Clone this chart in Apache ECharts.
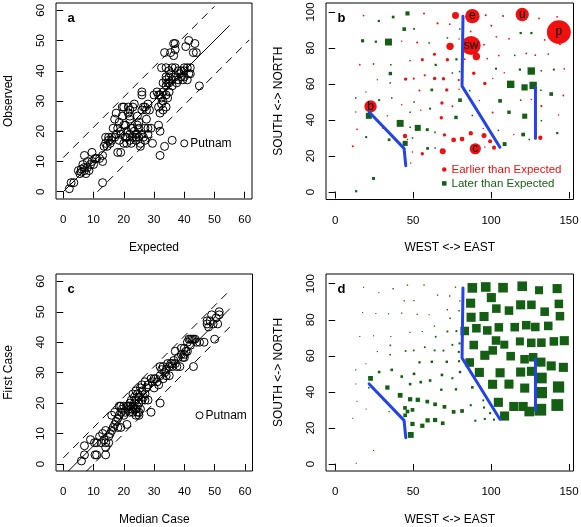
<!DOCTYPE html>
<html><head><meta charset="utf-8">
<script src="https://cdn.jsdelivr.net/npm/echarts@6/dist/echarts.min.js"></script>
<style>html,body{margin:0;padding:0;background:#fff}#c{width:581px;height:527px}</style>
</head><body><div id="c"></div>
<script>
// ---------- Panel a : Observed vs Expected ----------
const scatterA = [[2,1],[2.6,3],[3.5,3],[5,7],[5.5,6],[6,6.5],[6,7.5],[6.5,9],[7,7],[7,8],[7.5,6],[7,12],[8,8],[8,10],[8.5,7],[9,9],[9.5,10],[10,9],[9.5,13],[10.5,11],[11,11],[12,11],[13,10],[13,12],[13,3],[13.5,15],[14,16],[14,18],[14.5,15],[15,17],[15,18],[15.5,16],[16,18],[16,17],[16.5,21],[17,24],[17,18],[17.5,26],[17.5,19],[18,21],[18,13],[18.5,17],[18.5,23],[19,19],[19,20],[19,13],[19.5,28],[19.5,25],[20,28],[20,22],[20,16],[20.5,22],[20.5,18],[21,20],[21,18],[21,16],[21.5,28],[21.5,26],[22,27],[22,25],[22,24],[22,19],[22,17],[22.5,16],[22.5,21],[23,28],[23,21],[23,18],[23.5,29],[23.5,20],[24,19],[24,18],[24,17],[24.5,25],[24.5,22],[24.5,19],[25,23],[25,21],[25,18],[25.5,16],[25.5,15],[26,33],[26,32],[26,27],[26,19],[26.5,28],[26.5,18],[27,28],[27,21],[27,17],[27.5,27],[27.5,24],[28,19],[28,21],[28,29],[28.5,27],[29,21],[29.5,16],[30,32],[31,33],[31.5,32],[32,32],[31.5,28],[31.5,22],[32,26],[32,20],[32,12],[32.5,41],[32.5,31],[32.5,29],[33,36],[33,33],[33,30],[33,27],[33.5,15],[33.5,46],[34,41],[34,38],[34,37],[34,35],[34,32],[34,28],[34.5,31],[34.5,36],[35,40],[35,38],[35,36],[35,33],[35.5,46],[35.5,39],[36,41],[36,37],[36,35],[36,17],[36.5,49],[36.5,45],[37,49],[37,47],[37,41],[37,38],[37.5,36],[38,40],[38,37],[38.5,39],[39,40],[39,38],[39.5,37],[40,41],[40,40],[40,38],[40.5,48],[41,41],[41,37],[41.5,50],[41.5,39],[42,41],[42,39],[43,46],[43.5,49],[44,46],[45,35]];
const putnamA = [[40,16]];
const fitA = [[0,0],[55,55]];
const upperA = [[0,11.3],[50,61.3]];
const lowerA = [[11.3,0],[61.5,50.2]];

// ---------- Panel c : First Case vs Median Case ----------
const scatterC = [[6,1],[7,3],[7,6],[9,8],[10.3,7],[11,7],[10.5,3],[11,3],[12,9],[12.5,7],[13,10],[13.5,8],[14,11],[14,7],[14,5.5],[14,3],[15,7],[15,9],[15.5,10],[16,16],[16,11],[16.5,12],[17,17],[17,13],[17.5,14],[18,15],[18,12],[18.5,19],[18.5,16],[19,12],[19,17],[19,19],[19.5,18],[20,19],[20,16],[20.5,17],[21,19],[21,13],[21.5,18],[21.5,19],[22,19],[22,20],[22,17],[22.5,21],[22.5,18],[23,23],[23,19],[23,17],[23.5,22],[23.5,20],[23.5,18],[24,18],[24,24],[24,21],[24,16],[24.5,19],[24.5,23],[24.5,17],[25,20],[25,17],[25,22],[25,16],[25.5,25],[25.5,18],[26,21],[26,24],[26,26],[26.5,22],[27,27],[27,23],[27,21],[27.5,25],[28,26],[28,21],[29,17],[29,28],[29.5,27],[30,28],[30,25],[30.5,28],[31,27],[31.5,26],[32,32],[32,29],[32,20],[32.5,31],[33,32],[33,28],[33.5,30],[34,29],[34,31],[34.5,33],[35,32],[35,29],[35.5,33],[36,33],[36,32],[36.5,34],[37,33],[37,37],[37.5,32],[38,35],[38.5,32],[39,38],[39,36],[39.5,35],[40,38],[40,36],[40,35],[40.5,37],[41,37],[41,40],[41.5,41],[42,41],[42,39],[42.5,41],[43,41],[43,32],[43.5,41],[44,40],[45,40],[46.5,40],[47.5,47],[47.5,46],[48,45],[48.5,47],[49,49],[49.5,46],[50,41],[50.5,48],[51,46],[51.5,49],[51.5,50]];
const putnamC = [[45,16]];
const fitC = [[1.6,-2.4],[55,51]];
const upperC = [[0,2],[55,57]];
const lowerC = [[7.6,-2.4],[55,45]];
const outlierName = 'Putnam';

// ---------- Panels b, d : town locations ----------
const towns = [
[46.4,99.2],[57,99.2],[37.2,97.2],[28,95],[18.2,98],[88,97.7],[96.6,98.2],[107.7,97.8],[120,98.6],[130.8,96.4],
[142.4,97.3],[77.2,98.1],[65.7,93.7],[73.5,93.2],[50.6,90.6],[44.3,90.5],[100.2,92.3],[86.9,89.2],[103.4,86.2],[111.5,85.1],
[119,88.3],[125.9,88.3],[134.4,84.5],[143.5,88.8],[144.2,82],[87.2,81.4],[95.5,81.8],[72,85.6],[73.7,80.9],[17.6,84],
[26.1,83.5],[34.2,83.3],[52.6,83],[60.3,82.8],[63.7,76.5],[55.9,73.5],[48,73],[72,73.5],[77.8,73.7],[83.1,73.8],
[90.6,75.3],[97.6,74.1],[105,75.8],[115.2,75.9],[122.6,77],[128.4,76],[136.7,76.6],[15.8,70.7],[24.6,71.1],[35.7,70.7],
[64.5,70.6],[35.4,65.8],[45.2,62.7],[50.4,63],[57.5,64.8],[63.8,63],[69.5,62.9],[75.2,66.1],[79.3,62.2],[88.9,66],
[103.2,68.5],[108.5,66.2],[118.5,68],[125.8,67.2],[132.3,67.3],[140.3,68],[147,68.4],[101.1,63],[96,60.3],[112.6,59.8],
[121.5,58.1],[127,59.2],[132,56.5],[138.6,54.4],[146.4,53.6],[119,51],[125.9,51.4],[132.3,47.7],[143.3,42.7],[132.3,39.6],
[121.6,42.1],[111.5,44.3],[101,44.2],[105.8,50.6],[92.5,50.8],[86.3,56.3],[104.7,34.2],[108.7,26.6],[114.6,31.9],[120.6,31.9],
[124.5,29.1],[131.6,30.1],[142.5,32.7],[95.5,31.3],[87,32.6],[95,35.3],[81.4,29.4],[76,28.9],[69,22.6],[70.1,31.7],
[64.1,33.1],[59.1,34.6],[53,35.6],[48.1,35.9],[41.7,38.1],[33.5,42.4],[21.6,42.3],[22.7,47.5],[28.2,51],[36.3,52.2],
[42.7,48.5],[50.6,50],[54.9,45.4],[60.9,46.3],[68.5,49.4],[68.1,41.2],[77.5,41.4],[80.1,51],[75.2,47.6],[71.6,56.7],
[62,56.7],[54.1,56.4],[88,42.5],[44.8,31.1],[44.9,27],[46.4,29.1],[49.6,30],[49.6,22.2],[55.9,21.2],[59.3,24.2],
[64.1,24.4],[48.5,16.1],[34.6,29],[14,34.8],[13.2,44.4],[13.2,52.2],[19.7,55.6],[27.1,62.4],[35.3,60.6],[19.9,30.5],
[11.3,25.4],[24.6,7.5],[13.5,0.4],[0,0],[89.9,24],[96,25],[99.4,28.2],[101.9,24.6],[30.6,35.6],[42.7,83.7],
[48.1,44.3],[79.5,57],[79.8,66.9],[79.5,85],[80,90.5]];
// panel b: residual (positive = earlier than expected, negative = later)
const residB = [
-1.2,0.3,-0.6,-0.4,0.2,5.6,0.3,0.3,5.1,0.2,
0.2,2.4,0.4,0.2,-0.2,-1.0,0.3,0.2,0.2,0.2,
-0.4,-0.4,0.2,9.6,0.2,7.6,0.2,-0.1,2.6,-0.8,
-0.4,-2.4,0.3,-0.1,0.8,0.8,0.2,0.9,-0.4,0.2,
2.6,0.2,0.2,-0.1,0.2,0.2,0.2,0.2,0.2,-0.1,
-0.4,-0.9,0.9,0.4,0.4,0.9,0.9,-0.1,0.4,0.9,
-0.3,0.1,-0.4,-2.6,-0.1,-0.3,0.2,0.1,0.9,-2.6,
-2.1,-2.6,-0.1,-1.0,0.2,-0.1,0.1,0.4,0.1,-0.1,
-1.6,-0.9,0.3,-1.0,0.1,-0.1,-0.1,-1.1,0.1,-1.0,
-0.1,1.3,-0.4,1.6,1.3,0.1,1.5,1.5,2,0.9,
-0.1,-0.7,-2.0,-0.1,-2.4,0.1,-2.0,4.7,-0.3,-0.1,
0.1,-0.1,0.1,-0.3,0.9,0.9,-0.9,-1.0,0.3,0.9,
-0.6,0.3,-0.1,1.3,-1.6,0.1,-0.1,0.1,0.9,-0.6,
-0.1,0.1,-0.6,0.2,0.1,-0.1,0.1,0.1,-0.1,-0.3,
0.3,-0.7,-0.4,0.1,4.2,0.1,1.2,1.2,-0.1,0.1,
-0.1,0.1,-0.1,0.1,-0.1];
// panel d: delay measure (larger = later arrival)
const delayD = [
0.3,0.3,0.3,0.2,0.1,8,8,8,8,6.5,
7.5,0.3,0.3,0.3,0.3,0.3,7.5,7.5,7,7,
7.5,7,7,7,7,7.5,7.5,0.4,0.5,0.1,
0.1,0.2,0.2,0.2,0.3,0.2,0.2,0.8,0.9,7,
7,7,7,7,7,7,7,0.1,0.1,0.1,
0.7,0.6,0.7,0.7,0.7,0.8,0.8,0.8,1,7,
7,6.5,6.5,7,7,7,7.5,7,7.5,7,
7,7,7.5,7.5,7.5,7.5,7.5,9,9.5,9.5,
7.5,7.5,7.5,7.5,7.5,7,7.5,7.5,7.5,7.5,
8,10,10,1,1,0.8,2.5,2.5,2.5,2.5,
2.5,2.5,3,3,3.5,3,0.5,3.5,1.5,1.5,
1.5,1.5,1.5,1.5,1.5,1.3,1.3,1.3,1,1.3,
1.3,1.2,1.5,2.5,2.5,2.5,2.5,3,3,3,
3,4.5,0.3,0.1,0.1,0.1,0.1,0.2,0.5,0.1,
0.1,0.1,0.1,0.1,1,1,1,1,0.1,0.2,
1.5,1,1,0.4,0.3];
const townLabels = {107:'b', 5:'e', 8:'u', 23:'p', 25:'sw', 144:'c'};
const barrier1 = [[21.8,44.4],[44.2,24.2],[45.3,14.6]];
const barrier2 = [[82,97.6],[81.4,58.8],[105.7,24.8]];
const barrier3 = [[128.5,58.2],[128.5,29.8]];

const ticks60 = [0,10,20,30,40,50,60];
const ticks150 = [0,50,100,150];
const ticks100 = [0,20,40,60,80,100];
const seriesNames = ['Earlier than Expected','Later than Expected'];

// ---------- styling / build ----------
const FONT = '"Liberation Sans", Arial, Helvetica, sans-serif';
const RED = '#f01010', GREEN = '#145f14', BLUE = '#2244e8';
const chart = echarts.init(document.getElementById('c'), null, {renderer:'canvas'});

function grid(l,t,w,h){return {left:l,top:t,width:w,height:h,show:true,borderColor:'#000',borderWidth:1,backgroundColor:'transparent',containLabel:false,outerBoundsMode:'none'};}
function axis(isX, idx, min, max, ticks, name){
  return {type:'value', gridIndex:idx, min:min, max:max, name:name, nameLocation:'middle',
    nameGap: isX ? 42.5 : 41.5, nameMoveOverlap:false,
    nameTextStyle:{fontFamily:FONT, fontSize:12, color:'#000'},
    axisLine:{show:false}, splitLine:{show:false},
    axisTick:{show:true, inside:false, length:6.5, lineStyle:{color:'#000', width:1}, customValues:ticks},
    axisLabel:{show:true, fontFamily:FONT, fontSize:11.5, color:'#000', margin: isX ? 15 : 9, rotate: isX ? 0 : 90, customValues:ticks}};
}
const hollow = {color:'rgba(0,0,0,0)', borderColor:'#000', borderWidth:1, opacity:1};
function refLine(xi, data, dashed){
  return {type:'line', xAxisIndex:xi, yAxisIndex:xi, data:data, symbol:'none', silent:true, z:3,
    lineStyle:{color:'#000', width:1, type: dashed ? [8,6] : 'solid'}};
}
function blueLine(xi, data){
  return {type:'line', xAxisIndex:xi, yAxisIndex:xi, data:data, symbol:'none', silent:true, z:5,
    lineStyle:{color:BLUE, width:3, cap:'round', join:'round'}};
}
const early = [], late = [], dPts = [];
towns.forEach((t,i)=>{
  const r = residB[i];
  const item = {value:[t[0], t[1], Math.abs(r)]};
  if (townLabels[i] !== undefined) item.label = {show:true, position:'inside', formatter:townLabels[i], color:'#000', fontFamily:FONT, fontSize:12};
  (r >= 0 ? early : late).push(item);
  dPts.push([t[0], t[1], delayD[i]]);
});

const option = {
  animation:false,
  backgroundColor:'#fff',
  grid:[grid(56,3,196,196), grid(326,3,247.5,196.5), grid(56,274,196.5,197), grid(326,274,247.5,197)],
  xAxis:[axis(true,0,-2.4,62.4,ticks60,'Expected'), axis(true,1,-5.88,152.9,ticks150,'WEST <-> EAST'),
         axis(true,2,-2.4,62.5,ticks60,'Median Case'), axis(true,3,-5.88,152.9,ticks150,'WEST <-> EAST')],
  yAxis:[axis(false,0,-2.4,62.4,ticks60,'Observed'), axis(false,1,-4.2,105,ticks100,'SOUTH <-> NORTH'),
         axis(false,2,-2.3,62.4,ticks60,'First Case'), axis(false,3,-3.9,105.4,ticks100,'SOUTH <-> NORTH')],
  legend:{data:[{name:seriesNames[0], icon:'circle', textStyle:{color:RED}}, {name:seriesNames[1], icon:'rect', textStyle:{color:GREEN}}],
    orient:'vertical', left:442, top:163.5, padding:0, itemWidth:4.5, itemHeight:4.5, itemGap:1.9, selectedMode:false,
    textStyle:{fontFamily:FONT, fontSize:11.5}},
  graphic:[
    {type:'text', x:71, y:18.5, silent:true, style:{text:'a', font:'bold 13px "Liberation Sans", Arial', fill:'#000', align:'center', verticalAlign:'middle', textAlign:'center', textVerticalAlign:'middle'}},
    {type:'text', x:341.5, y:18, silent:true, style:{text:'b', font:'bold 13px "Liberation Sans", Arial', fill:'#000', align:'center', verticalAlign:'middle', textAlign:'center', textVerticalAlign:'middle'}},
    {type:'text', x:71, y:289.5, silent:true, style:{text:'c', font:'bold 13px "Liberation Sans", Arial', fill:'#000', align:'center', verticalAlign:'middle', textAlign:'center', textVerticalAlign:'middle'}},
    {type:'text', x:341.5, y:289, silent:true, style:{text:'d', font:'bold 13px "Liberation Sans", Arial', fill:'#000', align:'center', verticalAlign:'middle', textAlign:'center', textVerticalAlign:'middle'}}
  ],
  series:[
    {type:'scatter', xAxisIndex:0, yAxisIndex:0, data:scatterA, symbol:'circle', symbolSize:8, itemStyle:hollow, silent:true},
    {type:'scatter', xAxisIndex:0, yAxisIndex:0, data:putnamA, symbol:'circle', symbolSize:7, itemStyle:hollow, silent:true,
      label:{show:true, position:'right', distance:2, formatter:outlierName, fontFamily:FONT, fontSize:12, color:'#000'}},
    refLine(0, fitA, false), refLine(0, upperA, true), refLine(0, lowerA, true),
    {type:'scatter', xAxisIndex:2, yAxisIndex:2, data:scatterC, symbol:'circle', symbolSize:8, itemStyle:hollow, silent:true},
    {type:'scatter', xAxisIndex:2, yAxisIndex:2, data:putnamC, symbol:'circle', symbolSize:7, itemStyle:hollow, silent:true,
      label:{show:true, position:'right', distance:2, formatter:outlierName, fontFamily:FONT, fontSize:12, color:'#000'}},
    refLine(2, fitC, false), refLine(2, upperC, true), refLine(2, lowerC, true),
    {name:seriesNames[1], type:'scatter', xAxisIndex:1, yAxisIndex:1, data:late, symbol:'rect',
      symbolSize:v=>1.3+2.35*v[2], itemStyle:{color:GREEN, opacity:1}, silent:true},
    {name:seriesNames[0], type:'scatter', xAxisIndex:1, yAxisIndex:1, data:early, symbol:'circle',
      symbolSize:v=>1.3+2.35*v[2], itemStyle:{color:RED, opacity:1}, silent:true},
    blueLine(1, barrier1), blueLine(1, barrier2), blueLine(1, barrier3),
    {type:'scatter', xAxisIndex:3, yAxisIndex:3, data:dPts, symbol:'rect',
      symbolSize:v=>1+1.08*v[2], itemStyle:{color:GREEN, opacity:1}, silent:true},
    blueLine(3, barrier1), blueLine(3, barrier2), blueLine(3, barrier3)
  ]
};
chart.setOption(option);
</script>
</body></html>
